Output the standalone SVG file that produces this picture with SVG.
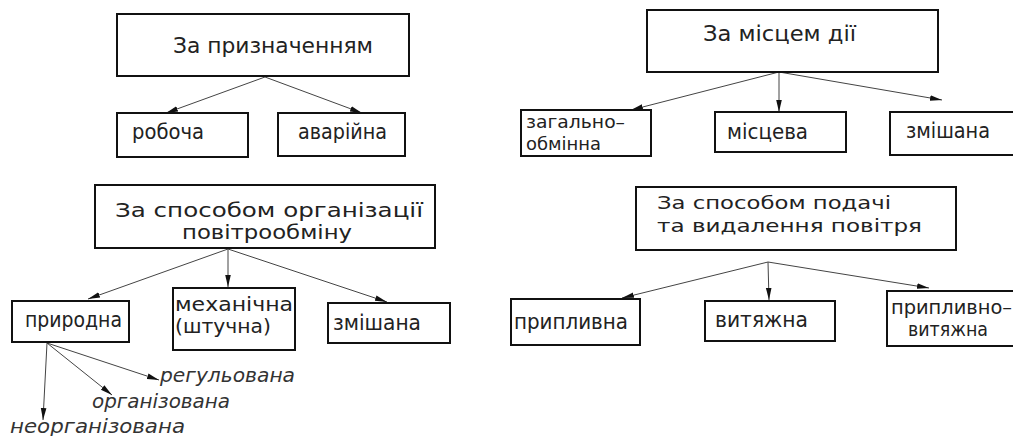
<svg xmlns="http://www.w3.org/2000/svg" width="1013" height="436" viewBox="0 0 1013 436">
<style>
.box{fill:#fff;stroke:#111;stroke-width:2}
.t{font-family:"DejaVu Sans","Liberation Sans",sans-serif;fill:#222}
.it{font-family:"DejaVu Sans","Liberation Sans",sans-serif;fill:#333;font-style:italic}
.c line{stroke:#444;stroke-width:1;marker-end:url(#ah)}
</style>
<defs>
<marker id="ah" markerUnits="userSpaceOnUse" markerWidth="13" markerHeight="8" refX="12" refY="4" orient="auto">
<path d="M0,1.2 L12,4 L0,6.8 z" fill="#111"/>
</marker>
</defs>
<rect width="1013" height="436" fill="#fff"/>
<g class="c" id="connectors">
<line x1="265" y1="77" x2="166" y2="113"/>
<line x1="265" y1="77" x2="362" y2="113"/>
<line x1="779" y1="72" x2="631" y2="110"/>
<line x1="779" y1="72" x2="779" y2="112"/>
<line x1="779" y1="72" x2="942" y2="100"/>
<line x1="228" y1="249" x2="88" y2="299"/>
<line x1="228" y1="249" x2="228" y2="287"/>
<line x1="228" y1="249" x2="387" y2="302"/>
<line x1="47" y1="343" x2="43" y2="420"/>
<line x1="47" y1="343" x2="112" y2="395"/>
<line x1="47" y1="343" x2="159" y2="380"/>
<line x1="768" y1="262" x2="622" y2="298"/>
<line x1="768" y1="262" x2="769" y2="300"/>
<line x1="768" y1="262" x2="929" y2="288"/>
</g>
<g id="n-pryznachennia">
<rect class="box" x="117" y="14" width="292" height="62"/>
<text class="t" x="173" y="53" font-size="22" textLength="200" lengthAdjust="spacingAndGlyphs">За призначенням</text>
</g>
<g id="n-robocha">
<rect class="box" x="117" y="113" width="131" height="44"/>
<text class="t" x="132" y="139" font-size="21" textLength="72" lengthAdjust="spacingAndGlyphs">робоча</text>
</g>
<g id="n-avariina">
<rect class="box" x="278" y="113" width="127" height="43"/>
<text class="t" x="298" y="139" font-size="21" textLength="89" lengthAdjust="spacingAndGlyphs">аварійна</text>
</g>
<g id="n-mistsem">
<rect class="box" x="647" y="10" width="291" height="62"/>
<text class="t" x="703" y="41" font-size="22" textLength="153" lengthAdjust="spacingAndGlyphs">За місцем дії</text>
</g>
<g id="n-zahalno">
<rect class="box" x="521" y="110" width="130" height="46"/>
<text class="t" x="526" y="128" font-size="18" textLength="99" lengthAdjust="spacingAndGlyphs">загально–</text>
<text class="t" x="526" y="150" font-size="18" textLength="75" lengthAdjust="spacingAndGlyphs">обмінна</text>
</g>
<g id="n-mistseva">
<rect class="box" x="715" y="112" width="131" height="40"/>
<text class="t" x="727" y="139" font-size="21" textLength="81" lengthAdjust="spacingAndGlyphs">місцева</text>
</g>
<g id="n-zmishana1">
<rect class="box" x="890" y="112" width="130" height="43"/>
<text class="t" x="906" y="138" font-size="21" textLength="84" lengthAdjust="spacingAndGlyphs">змішана</text>
</g>
<g id="n-orhanizatsii">
<rect class="box" x="95" y="185" width="340" height="63"/>
<text class="t" x="115" y="217" font-size="20" textLength="308" lengthAdjust="spacingAndGlyphs">За способом організації</text>
<text class="t" x="182" y="239" font-size="20" textLength="170" lengthAdjust="spacingAndGlyphs">повітрообміну</text>
</g>
<g id="n-pryrodna">
<rect class="box" x="12" y="301" width="117" height="41"/>
<text class="t" x="25" y="327" font-size="21" textLength="97" lengthAdjust="spacingAndGlyphs">природна</text>
</g>
<g id="n-mekhanichna">
<rect class="box" x="173" y="288" width="122" height="62"/>
<text class="t" x="175" y="311" font-size="19" textLength="118" lengthAdjust="spacingAndGlyphs">механічна</text>
<text class="t" x="175" y="333" font-size="19" textLength="96" lengthAdjust="spacingAndGlyphs">(штучна)</text>
</g>
<g id="n-zmishana2">
<rect class="box" x="328" y="303" width="122" height="40"/>
<text class="t" x="333" y="330" font-size="21" textLength="88" lengthAdjust="spacingAndGlyphs">змішана</text>
</g>
<g id="n-rehulovana">
<text class="it" x="160" y="382" font-size="19" textLength="135" lengthAdjust="spacingAndGlyphs">регульована</text>
</g>
<g id="n-orhanizovana">
<text class="it" x="92" y="408" font-size="19" textLength="138" lengthAdjust="spacingAndGlyphs">організована</text>
</g>
<g id="n-neorhanizovana">
<text class="it" x="10" y="433" font-size="19" textLength="175" lengthAdjust="spacingAndGlyphs">неорганізована</text>
</g>
<g id="n-podachi">
<rect class="box" x="636" y="187" width="320" height="63"/>
<text class="t" x="657" y="209" font-size="18" textLength="234" lengthAdjust="spacingAndGlyphs">За способом подачі</text>
<text class="t" x="657" y="232" font-size="18" textLength="265" lengthAdjust="spacingAndGlyphs">та видалення повітря</text>
</g>
<g id="n-pryplyvna">
<rect class="box" x="511" y="299" width="129" height="46"/>
<text class="t" x="514" y="329" font-size="21" textLength="114" lengthAdjust="spacingAndGlyphs">припливна</text>
</g>
<g id="n-vytiazhna">
<rect class="box" x="705" y="301" width="130" height="40"/>
<text class="t" x="715" y="327" font-size="21" textLength="93" lengthAdjust="spacingAndGlyphs">витяжна</text>
</g>
<g id="n-pryplyvno-vytiazhna">
<rect class="box" x="887" y="291" width="135" height="55"/>
<text class="t" x="891" y="314" font-size="19" textLength="121" lengthAdjust="spacingAndGlyphs">припливно–</text>
<text class="t" x="908" y="336" font-size="19" textLength="80" lengthAdjust="spacingAndGlyphs">витяжна</text>
</g>
</svg>
